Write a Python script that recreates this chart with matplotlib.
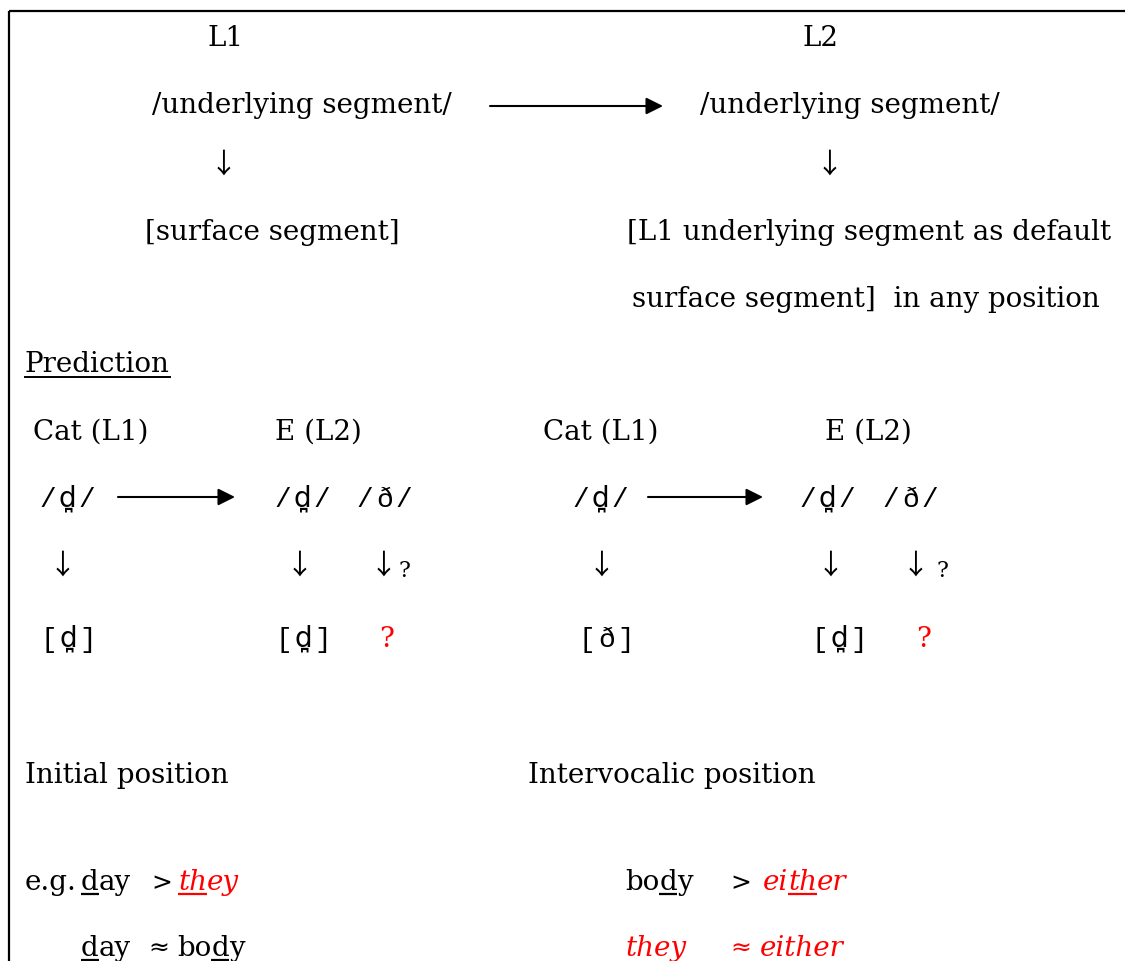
import matplotlib
matplotlib.use('Agg')
import matplotlib.pyplot as plt

# text content
top_heads = ['L1', 'L2']
underlying = '/underlying segment/'
surface_l1 = '[surface segment]'
surface_l2 = ['[L1 underlying segment as default', 'surface segment]  in any position']
prediction = 'Prediction'
lang_heads = ['Cat (L1)', 'E (L2)', 'Cat (L1)', 'E (L2)']
phon_under = ['/d\u032a/', '/d\u032a/', '/\u00f0/', '/d\u032a/', '/d\u032a/', '/\u00f0/']
phon_surf = ['[d\u032a]', '[d\u032a]', '[\u00f0]', '[d\u032a]']
positions = ['Initial position', 'Intervocalic position']

SERIF = ['DejaVu Serif']
MONO = ['Liberation Mono', 'DejaVu Sans Mono']
MARKF = ['DejaVu Sans']
ARROWF = ['Noto Sans CJK SC', 'DejaVu Sans']
RED = '#ff0000'
FS = 20
CELL = 19.5

fig = plt.figure(figsize=(11.25, 9.61), dpi=100)
ax = fig.add_axes([0, 0, 1, 1])
ax.set_xlim(0, 1125)
ax.set_ylim(961, 0)
ax.axis('off')
renderer = fig.canvas.get_renderer()

# frame (top and left edges visible)
ax.plot([9, 1125], [11, 11], color='black', lw=1.6, solid_capstyle='butt')
ax.plot([9, 9], [11, 961], color='black', lw=1.6, solid_capstyle='butt')


def put(x, y, s, ha='left', family=SERIF, **kw):
    kw.setdefault('fontsize', FS)
    return ax.text(x, y, s, ha=ha, va='baseline', family=family, **kw)


def wid(t):
    bb = t.get_window_extent(renderer)
    return bb.width


def word(x, y, parts, under=(), color='black', style='normal'):
    for i, p in enumerate(parts):
        t = put(x, y, p, color=color, style=style)
        w = wid(t)
        if i in under:
            ax.plot([x, x + w], [y + 4, y + 4], color=color, lw=1.6,
                    solid_capstyle='butt')
        x += w
    return x


def ipa(cx, y, s):
    # one monospace cell per base character (with its diacritics)
    cells = []
    for ch in s:
        if ch == '\u032a' and cells:
            cells[-1] += ch
        else:
            cells.append(ch)
    for i, c in enumerate(cells):
        fam = MARKF if len(c) > 1 else MONO
        put(cx + i * CELL, y, c, ha='center', family=fam)


def long_arrow(x0, x1, y):
    ax.annotate('', xy=(x1, y), xytext=(x0, y),
                arrowprops=dict(arrowstyle='-|>,head_length=0.6,head_width=0.3',
                                color='black', lw=1.5,
                                mutation_scale=17, shrinkA=0, shrinkB=0))


def down(x, y):
    ax.text(x, y, '\u2193', ha='center', va='center', fontsize=20,
            family=ARROWF, color='black')


# upper schema
for s, x in zip(top_heads, [226, 820]):
    put(x, 46, s, ha='center')
for x in [152, 700]:
    put(x, 113, underlying)
long_arrow(490, 663, 106)
down(223, 165)
down(829, 165)
put(145, 240, surface_l1)
put(627, 240, surface_l2[0])
put(632, 307, surface_l2[1])

# prediction
t = put(25, 372, prediction)
ax.plot([25, 25 + wid(t)], [377, 377], color='black', lw=1.4)

for s, x in zip(lang_heads, [33, 275, 543, 825]):
    put(x, 440, s)
for s, x in zip(phon_under, [48, 283, 365, 581, 808, 891]):
    ipa(x, 507, s)
long_arrow(118, 235, 497)
long_arrow(648, 763, 497)
for x in [62, 299, 383, 601, 830, 915]:
    down(x, 566)
put(398, 577, '?', fontsize=16)
put(937, 577, '?', fontsize=16)
for s, x in zip(phon_surf, [49, 284, 587, 820]):
    ipa(x, 647, s)
put(387, 647, '?', ha='center', color=RED)
put(924, 647, '?', ha='center', color=RED)

# positions and examples
put(25, 783, positions[0])
put(528, 783, positions[1])

put(25, 890, 'e.g.')
word(81, 890, ['d', 'ay'], under=(0,))
put(151, 890, '>', family=['DejaVu Sans'], fontsize=18)
word(178, 890, ['th', 'ey'], under=(0,), color=RED, style='italic')

word(625, 890, ['bo', 'd', 'y'], under=(1,))
put(730, 890, '>', family=['DejaVu Sans'], fontsize=18)
word(763, 890, ['ei', 'th', 'er'], under=(1,), color=RED, style='italic')

word(81, 956, ['d', 'ay'], under=(0,))
put(148, 956, '\u2248', family=['DejaVu Sans'], fontsize=18)
word(177, 956, ['bo', 'd', 'y'], under=(1,))

put(625, 956, 'they', color=RED, style='italic')
put(730, 956, '\u2248', family=['DejaVu Sans'], fontsize=18, color=RED)
put(760, 956, 'either', color=RED, style='italic')

fig.savefig('out.png', dpi=100)
